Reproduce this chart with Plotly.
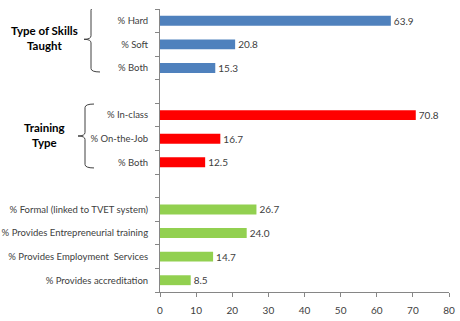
import plotly.graph_objects as go

# ---- data ----
skills_labels = ["% Hard", "% Soft", "% Both"]
skills_values = [63.9, 20.8, 15.3]

training_labels = ["% In-class", "% On-the-Job", "% Both"]
training_values = [70.8, 16.7, 12.5]

other_labels = ["% Formal (linked to TVET system)",
                "% Provides Entrepreneurial training",
                "% Provides Employment  Services",
                "% Provides accreditation"]
other_values = [26.7, 24.0, 14.7, 8.5]

group_titles = ["Type of Skills<br>Taught", "Training<br>Type"]
x_ticks = [0, 10, 20, 30, 40, 50, 60, 70, 80]

# ---- positions (with a blank slot between groups) ----
skills_pos = [0, 1, 2]
training_pos = [4, 5, 6]
other_pos = [8, 9, 10, 11]

FONT = "Lato"
TXT = "#404040"

fig = go.Figure()
for labels, vals, pos, col in [
    (skills_labels, skills_values, skills_pos, "#4F81BD"),
    (training_labels, training_values, training_pos, "#FF0000"),
    (other_labels, other_values, other_pos, "#92D050"),
]:
    fig.add_trace(go.Bar(
        x=vals, y=pos, orientation="h", width=0.42,
        marker=dict(color=col, line=dict(width=0)),
        text=[f"{v:.1f}" for v in vals], textposition="outside",
        constraintext="none",
        textfont=dict(size=10, color=TXT, family=FONT),
        cliponaxis=False, showlegend=False, hoverinfo="skip",
    ))

all_pos = skills_pos + training_pos + other_pos
all_labels = skills_labels + training_labels + other_labels

fig.update_layout(
    width=460, height=321, autosize=False,
    margin=dict(l=160, r=11, t=9, b=29),
    paper_bgcolor="white", plot_bgcolor="white",
    font=dict(family=FONT, size=10, color=TXT),
    bargap=0.6,
    xaxis=dict(range=[0, 80], tickvals=x_ticks, showgrid=False, zeroline=False,
               automargin=False,
               showline=True, linecolor="#868686", linewidth=1,
               ticks="outside", ticklen=4, tickcolor="#868686",
               ticklabelstandoff=5,
               tickfont=dict(size=10, color=TXT, family=FONT)),
    yaxis=dict(range=[11.5, -0.5], tickvals=all_pos, ticktext=all_labels,
               automargin=False,
               showgrid=False, zeroline=False, showline=True,
               linecolor="#868686", linewidth=1,
               ticks="outside", ticklen=9, tickcolor="rgba(0,0,0,0)",
               tickfont=dict(size=9.5, color=TXT, family=FONT),
               minor=dict(tickvals=[i - 0.5 for i in range(13)],
                          ticks="outside", ticklen=4, tickcolor="#868686",
                          showgrid=False)),
)

# ---- braces and group titles ----
def px2paper(px):
    return (px - 160) / 289.0

brace_px = [(91, 100, 84), (85, 94, 78)]
brace_pad = [(0.6, 0.17), (0.47, 0.24)]
for grp, title, (bv, bh, bl), (pt, pb) in zip(
        [skills_pos, training_pos], group_titles, brace_px, brace_pad):
    top = grp[0] - pt
    bot = grp[-1] + pb
    mid = (top + bot) / 2
    xv = px2paper(bv)
    xh = px2paper(bh)
    xl = px2paper(bl)
    d = 0.15
    path = (f"M {xh},{top} Q {xv},{top} {xv},{top + d} "
            f"L {xv},{mid - d} Q {xv},{mid} {xl},{mid} "
            f"Q {xv},{mid} {xv},{mid + d} "
            f"L {xv},{bot - d} Q {xv},{bot} {xh},{bot}")
    fig.add_shape(type="path", path=path, xref="paper", yref="y",
                  line=dict(color="#404040", width=1))
    fig.add_annotation(x=px2paper(44), y=mid - 0.05, xref="paper", yref="y",
                       text=f"<b>{title}</b>", showarrow=False,
                       font=dict(size=11.5, color="black", family=FONT),
                       xanchor="center", yanchor="middle")

fig.write_html("out.html")
